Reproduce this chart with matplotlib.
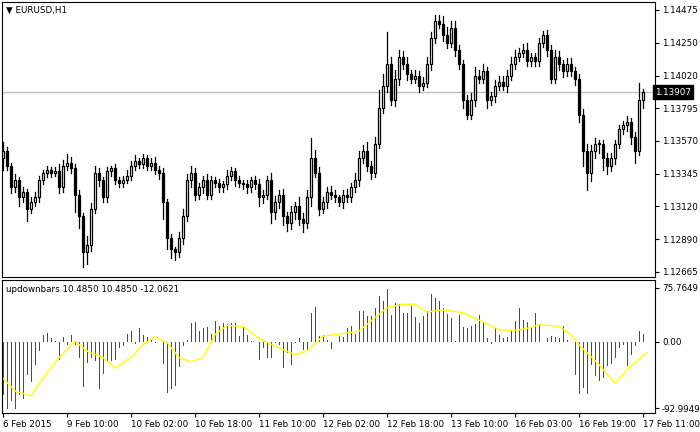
import matplotlib
matplotlib.use("Agg")
import matplotlib.pyplot as plt
from matplotlib.patches import Rectangle

closes = [1.1350,1.1340,1.1325,1.1330,1.1318,1.1322,1.1310,1.1315,1.1318,1.1330,
          1.1335,1.1337,1.1335,1.1336,1.1325,1.1340,1.1342,1.1338,1.1320,1.1305,
          1.1280,1.1285,1.1310,1.1335,1.1330,1.1318,1.1336,1.1338,1.1330,1.1328,
          1.1330,1.1333,1.1340,1.1343,1.1341,1.1345,1.1340,1.1342,1.1337,1.1335,
          1.1315,1.1290,1.1282,1.1280,1.1290,1.1305,1.1330,1.1335,1.1320,1.1325,
          1.1330,1.1320,1.1330,1.1328,1.1325,1.1327,1.1333,1.1336,1.1330,1.1328,
          1.1327,1.1325,1.1330,1.1327,1.1318,1.1320,1.1330,1.1308,1.1315,1.1320,
          1.1305,1.1300,1.1308,1.1312,1.1303,1.1300,1.1318,1.1345,1.1335,1.1310,
          1.1315,1.1322,1.1320,1.1318,1.1315,1.1320,1.1318,1.1325,1.1330,1.1345,
          1.1350,1.1340,1.1335,1.1355,1.1380,1.1395,1.1410,1.1385,1.1400,1.1415,
          1.1410,1.1403,1.1400,1.1402,1.1395,1.1397,1.1410,1.1428,1.1440,1.1438,
          1.1430,1.1425,1.1435,1.1420,1.1410,1.1385,1.1375,1.1385,1.1402,1.1400,
          1.1405,1.1385,1.1388,1.1395,1.1398,1.1395,1.1402,1.1410,1.1415,1.1418,
          1.1420,1.1412,1.1415,1.1412,1.1425,1.1430,1.1420,1.1400,1.1415,1.1410,
          1.1405,1.1410,1.1405,1.1400,1.1375,1.1350,1.1335,1.1350,1.1355,1.1355,
          1.1345,1.1340,1.1345,1.1355,1.1365,1.1368,1.1370,1.1360,1.1350,1.1385,
          1.13907]
first_open = 1.1345
upper_wick = [6,3,2,4,2,3,2,3,4,3, 2,3,2,3,5,4,6,4,3,3, 2,6,4,5,3,2,3,2,3,2,
              3,4,3,4,2,3,2,3,4,3, 3,2,3,2,4,5,4,5,3,3, 3,4,3,2,3,2,4,3,2,3,
              2,3,2,3,4,3,3,5,4,3, 4,3,4,3,6,4,5,14,6,4, 3,3,4,3,2,3,4,3,5,5,
              4,6,3,5,12,8,22,5,6,5, 4,5,3,4,3,4,5,4,4,4, 5,6,5,5,3,3,4,5,6,4,
              5,3,3,4,4,4,4,5,5,3, 4,5,3,3,3,3,4,3,5,4, 3,4,4,3,3,4,5,4,4,3,
              3,4,4,3,3,3,4,3,3,12, 2]
lower_wick = [8,3,4,3,6,3,8,3,3,3, 3,3,3,2,4,3,3,3,12,8, 10,8,4,3,4,3,3,3,3,3,
              3,2,3,3,3,3,3,3,3,4, 12,8,6,5,3,4,3,5,4,3, 4,3,3,3,3,3,3,3,4,3,
              3,4,3,3,6,4,3,8,5,4, 6,5,4,5,4,6,3,6,3,4, 3,4,3,3,3,4,3,3,3,4,
              3,4,4,3,3,4,4,3,4,4, 3,4,3,3,4,3,3,4,3,3, 4,4,3,4,3,5,3,3,4,3,
              3,5,3,4,3,3,4,3,3,3, 3,3,3,3,3,3,4,3,3,4, 4,3,3,4,5,10,12,6,5,6,
              8,6,4,4,3,3,4,5,8,3, 5]

hist = [-74,-94,-83,-94,-74,-81,-46,-56,-32,-13,10,13,5,1,-25,7,-4,10,-5,-22,
        -64,-30,-22,-27,-66,-45,-27,-27,-26,-8,-6,11,15,-3,20,9,7,2,-2,0,
        -31,-72,-66,-62,-36,-6,2,27,28,15,20,21,11,29,22,27,25,27,27,8,
        21,9,1,0,-25,-8,-23,-23,-2,-4,-37,-15,-32,-2,5,-12,-11,41,49,8,
        10,2,-10,0,8,7,20,23,11,43,43,36,36,48,64,57,74,38,55,53,
        41,41,50,35,27,36,44,67,62,58,48,39,34,1,38,21,19,23,25,38,
        27,5,-3,19,9,6,7,15,30,47,31,28,20,41,25,0,5,8,7,5,
        22,3,0,-46,-73,-65,-73,-32,-48,-55,-51,-34,-31,-22,-8,-4,-34,-18,-6,15,
        11]
sig_bar = [0,3,7,10,14,18,21,25,28,32,35,38,41,44,47,50,53,56,60,64,
           68,73,76,80,84,89,93,96,100,103,106,110,115,120,124,128,131,134,139,142,
           144,149,153,157,161]
sig_val = [-51,-69,-76,-51,-22,1,-13,-22,-37,-22,-4,7,-1,-22,-28,-22,10,23,22,5,
           -6,-18,-13,8,11,15,34,48,53,53,42,45,41,28,17,16,19,24,22,10,
           -4,-32,-58,-34,-15]
xtick_bars = [0,16,32,48,64,80,96,112,128,144,160]
xtick_labels = ["6 Feb 2015","9 Feb 10:00","10 Feb 02:00","10 Feb 18:00","11 Feb 10:00",
                "12 Feb 02:00","12 Feb 18:00","13 Feb 10:00","16 Feb 03:00","16 Feb 19:00",
                "17 Feb 11:00"]
price_ticks = [1.14475,1.14250,1.14020,1.13795,1.13570,1.13345,1.13120,1.12890,1.12665]
last_price = 1.13907
ind_ticks = [75.7649,0.0,-92.9949]
ind_labels = ["75.7649","0.00","-92.9949"]

plt.rcParams['font.family'] = ['DejaVu Sans']
fs = 6.3
fig = plt.figure(figsize=(7,4.32), dpi=100)
ax = fig.add_axes([2/700, 1-277/432, 653/700, 275/432])
ax2 = fig.add_axes([2/700, 1-413/432, 653/700, 133/432])

pip = 0.0001
n = len(closes)
prev = first_open
for i in range(n):
    o, c = prev, closes[i]
    top, bot = max(o,c), min(o,c)
    ax.plot([i,i],[bot-lower_wick[i]*pip, top+upper_wick[i]*pip], color='black', lw=0.9, zorder=2)
    h = max(top-bot, 0.00003)
    ax.add_patch(Rectangle((i-0.3, bot), 0.6, h, facecolor='white' if c >= o else 'black',
                           edgecolor='black', lw=0.9, zorder=3))
    prev = c
ax.axhline(last_price, color='#c0c0c0', lw=1, zorder=1)
ax.set_xlim(-0.25, 163)
ax.set_ylim(1.12630, 1.14530)
ax.yaxis.tick_right()
ax.set_yticks(price_ticks)
ax.set_yticklabels([f"{t:.5f}" for t in price_ticks], fontsize=fs)
ax.set_xticks([])
ax.tick_params(axis='y', length=3, pad=2)
ax.text(1.0, last_price, f"{last_price:.5f}", transform=ax.get_yaxis_transform(),
        fontsize=fs, color='white', va='center', ha='left',
        bbox=dict(boxstyle='square,pad=0.25', fc='black', ec='black'))
ax.text(0.006, 0.985, "▼ EURUSD,H1", transform=ax.transAxes, fontsize=fs, va='top', ha='left')

xs = list(range(len(hist)))
cols = ['green' if v > 0 else 'red' for v in hist]
ax2.bar(xs, hist, width=0.25, color=cols)
ax2.plot(sig_bar, sig_val, color='yellow', lw=1)
ax2.set_xlim(-0.25, 163)
ax2.set_ylim(-100, 87)
ax2.yaxis.tick_right()
ax2.set_yticks(ind_ticks)
ax2.set_yticklabels(ind_labels, fontsize=fs)
ax2.set_xticks(xtick_bars)
ax2.set_xticklabels(xtick_labels, fontsize=fs, ha='left')
ax2.tick_params(axis='both', length=3, pad=2)
ax2.text(0.006, 0.96, "updownbars 10.4850 10.4850 -12.0621", transform=ax2.transAxes,
         fontsize=fs, va='top', ha='left')
for a in (ax, ax2):
    for s in a.spines.values():
        s.set_linewidth(0.8)
fig.savefig("out.png", dpi=100)
